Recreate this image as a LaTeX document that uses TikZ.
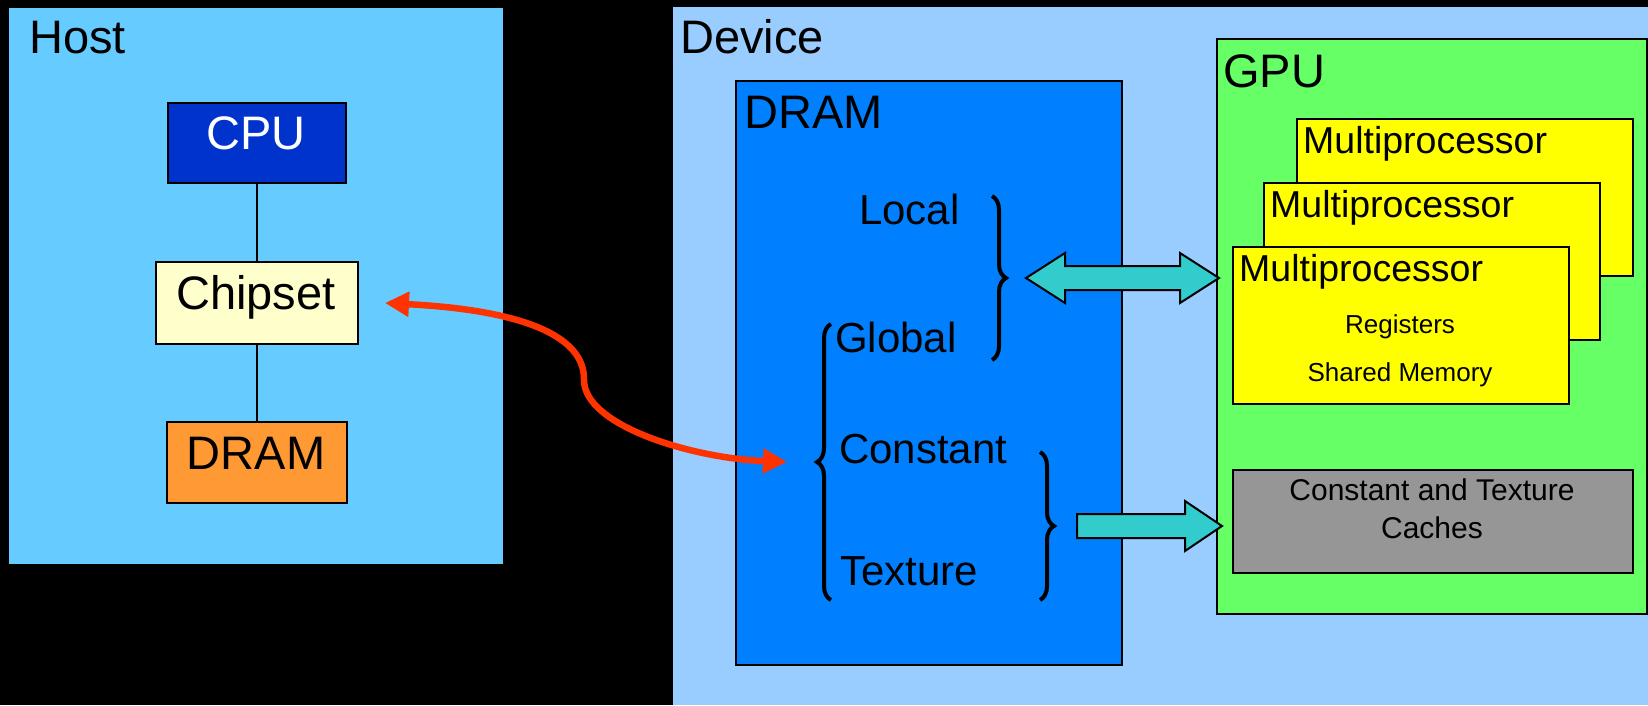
\documentclass[tikz,border=0pt]{standalone}
\usepackage{fontspec}
\setmainfont{Liberation Sans}
\usetikzlibrary{arrows.meta, decorations.pathreplacing}

\definecolor{hostblue}{HTML}{66CCFF}
\definecolor{devblue}{HTML}{99CCFF}
\definecolor{cpublue}{HTML}{0033CC}
\definecolor{chipyellow}{HTML}{FFFFCC}
\definecolor{dramorange}{HTML}{FF9933}
\definecolor{dramblue}{HTML}{0080FF}
\definecolor{gpugreen}{HTML}{66FF66}
\definecolor{mpyellow}{HTML}{FFFF00}
\definecolor{cachegray}{HTML}{969696}
\definecolor{linkcyan}{HTML}{33CCCC}
\definecolor{linkred}{HTML}{FF3300}

\begin{document}
\begin{tikzpicture}[x=1pt, y=-1pt,
    area/.style={inner sep=0pt, anchor=north west},
    box/.style={draw=black, line width=2pt, inner sep=0pt, anchor=north west},
    txt/.style={inner sep=0pt, anchor=base west},
    ctxt/.style={inner sep=0pt, anchor=base},
    bigtxt/.style={font=\fontsize{47}{56}\selectfont},
    memtxt/.style={font=\fontsize{42}{50}\selectfont},
    mptxt/.style={font=\fontsize{37.5}{45}\selectfont},
    smalltxt/.style={font=\fontsize{26}{31}\selectfont},
    cachetxt/.style={font=\fontsize{30}{38}\selectfont},
    membrace/.style={decorate, decoration={brace, amplitude=14pt}, line width=4pt},
    fatarrow/.style={fill=linkcyan, draw=black, line width=2pt, line join=miter}]

    % Background
    \useasboundingbox (0,0) rectangle (1648,705);
    \fill[black] (0,0) rectangle (1648,705);

    % Host
    \node[area, fill=hostblue, minimum width=494pt, minimum height=556pt] (host) at (9,8) {};
    \node[txt, bigtxt] (host-lbl) at (29,53) {Host};

    \node[box, fill=cpublue,    minimum width=178pt, minimum height=80pt] (cpu)     at (167,102) {};
    \node[box, fill=chipyellow, minimum width=202pt, minimum height=82pt] (chipset) at (155,261) {};
    \node[box, fill=dramorange, minimum width=180pt, minimum height=81pt] (hdram)   at (166,421) {};
    \node[ctxt, bigtxt, white] (cpu-lbl)     at (256,149) {CPU};
    \node[ctxt, bigtxt]        (chipset-lbl) at (256,309) {Chipset};
    \node[ctxt, bigtxt]        (hdram-lbl)   at (256,469) {DRAM};

    \draw[line width=2pt] (cpu) -- (chipset);
    \draw[line width=2pt] (chipset) -- (hdram);

    % Device
    \node[area, fill=devblue, minimum width=975pt, minimum height=698pt] (device) at (673,7) {};
    \node[txt, bigtxt] (device-lbl) at (680,53) {Device};

    % Device memory
    \node[box, fill=dramblue, minimum width=386pt, minimum height=584pt] (ddram) at (735,80) {};
    \node[txt, bigtxt] (ddram-lbl) at (744,128) {DRAM};
    \node[txt, memtxt] (local)    at (859,224) {Local};
    \node[txt, memtxt] (global)   at (835,352) {Global};
    \node[txt, memtxt] (constant) at (839,463) {Constant};
    \node[txt, memtxt] (texture)  at (840,585) {Texture};

    \coordinate (lg-tip)   at (1026,278);
    \coordinate (glob-tip) at (816,462);
    \coordinate (ct-tail)  at (1077,526);
    \draw[membrace] (992,196) -- (992,360);
    \draw[membrace] (831,600) -- (831,324);
    \draw[membrace] (1040,452) -- (1040,600);

    % GPU
    \node[box, fill=gpugreen, minimum width=430pt, minimum height=575pt] (gpu) at (1216,38) {};
    \node[txt, bigtxt] (gpu-lbl) at (1223,87) {GPU};

    \foreach \n/\x/\y in {mp3/1296/118, mp2/1263/182, mp1/1232/246}{
        \node[box, fill=mpyellow, minimum width=336pt, minimum height=157pt] (\n) at (\x,\y) {};
        \node[txt, mptxt] (\n-lbl) at (\x+7,\y+35) {Multiprocessor};
    }
    \node[ctxt, smalltxt] (regs)  at (1400,333) {Registers};
    \node[ctxt, smalltxt] (shmem) at (1400,381) {Shared Memory};

    \node[box, fill=cachegray, minimum width=400pt, minimum height=103pt] (cache) at (1232,469) {};
    \node[cachetxt, inner sep=0pt, align=center] (cache-lbl) at (1432,509) {Constant and Texture\\Caches};

    % Links
    \filldraw[fatarrow] (lg-tip) -- ++(39,-25) -- ++(0,13) -- ++(115,0) -- ++(0,-13) -- ++(39,25)
        -- ++(-39,25) -- ++(0,-13) -- ++(-115,0) -- ++(0,13) -- cycle;
    \filldraw[fatarrow] ([yshift=12pt]ct-tail) -- ++(108,0) -- ++(0,-13) -- ++(37,25)
        -- ++(-37,25) -- ++(0,-13) -- ++(-108,0) -- cycle;

    \draw[linkred, line width=6.5pt, {Triangle[length=24pt,width=24pt]}-{Triangle[length=24pt,width=24pt]}]
        ([xshift=26pt]chipset.east) .. controls (520,310) and (585,335) .. (584,380)
        .. controls (584,425) and (690,458) .. ([xshift=-29pt]glob-tip);

\end{tikzpicture}
\end{document}
